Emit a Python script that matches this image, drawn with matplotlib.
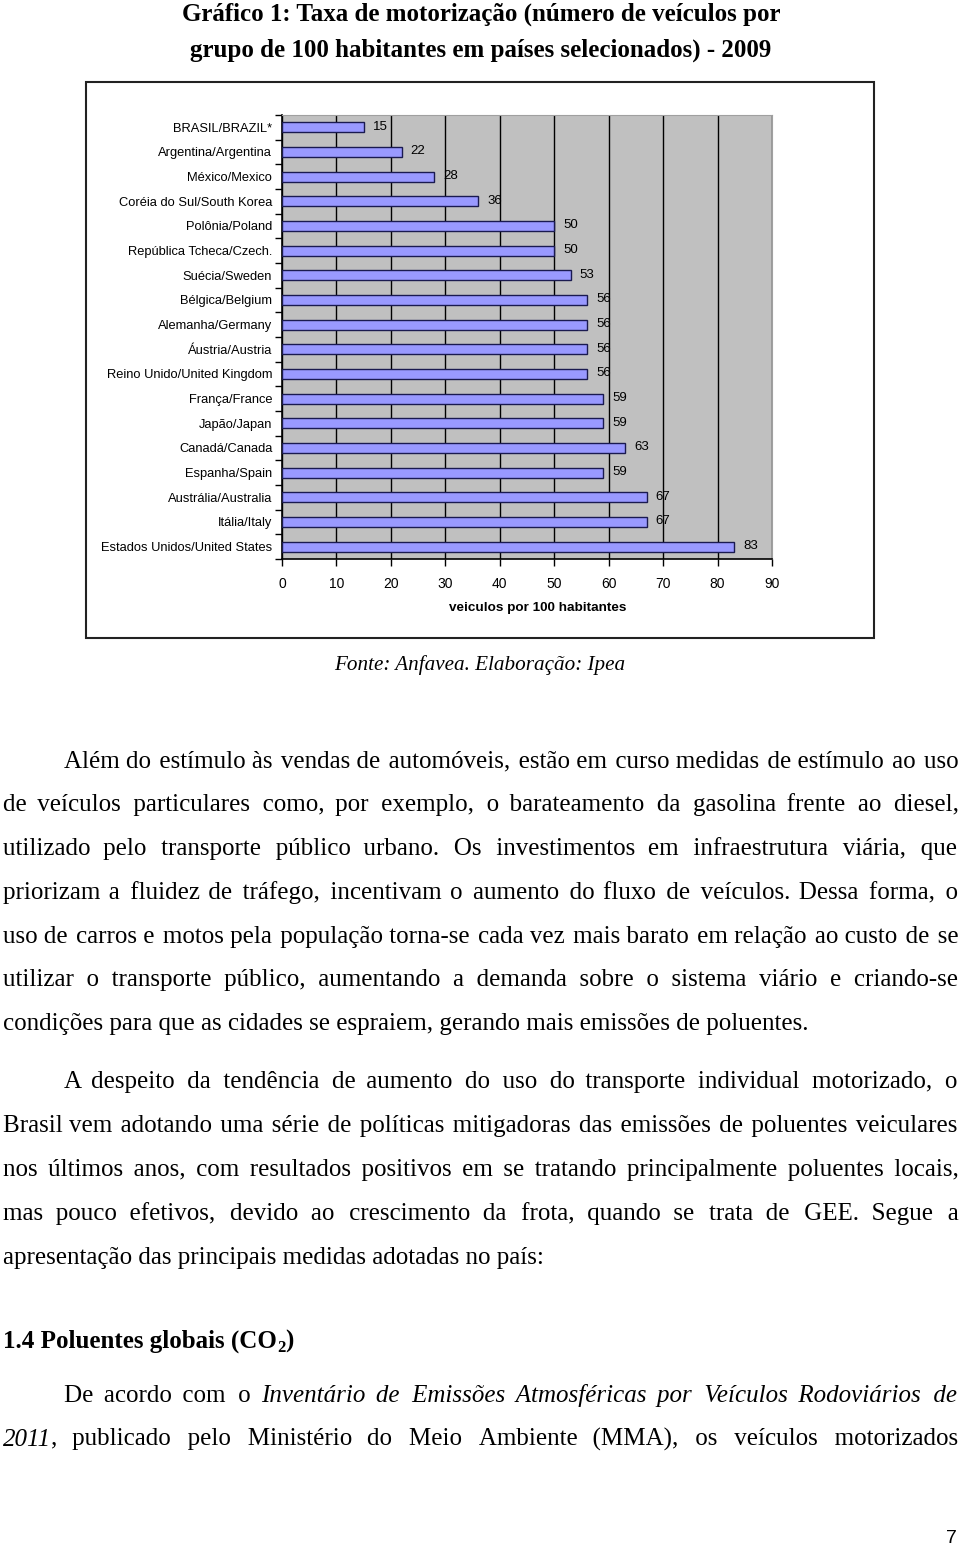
import matplotlib
matplotlib.use("Agg")
import matplotlib.pyplot as plt
import numpy as np

SERIF = ["Liberation Serif", "DejaVu Serif"]
SANS = "Liberation Sans"
HAIR = "\u200a"

# chart data
countries = ["BRASIL/BRAZIL*", "Argentina/Argentina", "México/Mexico",
             "Coréia do Sul/South Korea", "Polônia/Poland", "República Tcheca/Czech.",
             "Suécia/Sweden", "Bélgica/Belgium", "Alemanha/Germany", "Áustria/Austria",
             "Reino Unido/United Kingdom", "França/France", "Japão/Japan", "Canadá/Canada",
             "Espanha/Spain", "Austrália/Australia", "Itália/Italy",
             "Estados Unidos/United States"]
rates = [15, 22, 28, 36, 50, 50, 53, 56, 56, 56, 56, 59, 59, 63, 59, 67, 67, 83]
xticks = list(range(0, 91, 10))

title_lines = ["Gráfico 1: Taxa de motorização (número de veículos por",
               "grupo de 100 habitantes em países selecionados) - 2009"]
xlabel = "veiculos por 100 habitantes"
source = "Fonte: Anfavea. Elaboração: Ipea"

# body text, italics between | marks
para1 = ["Além do estímulo às vendas de automóveis, estão em curso medidas de estímulo ao uso",
         "de veículos particulares como, por exemplo, o barateamento da gasolina frente ao diesel,",
         "utilizado pelo transporte público urbano. Os investimentos em infraestrutura viária, que",
         "priorizam a fluidez de tráfego, incentivam o aumento do fluxo de veículos. Dessa forma, o",
         "uso de carros e motos pela população torna-se cada vez mais barato em relação ao custo de se",
         "utilizar o transporte público, aumentando a demanda sobre o sistema viário e criando-se",
         "condições para que as cidades se espraiem, gerando mais emissões de poluentes."]
para2 = ["A despeito da tendência de aumento do uso do transporte individual motorizado, o",
         "Brasil vem adotando uma série de políticas mitigadoras das emissões de poluentes veiculares",
         "nos últimos anos, com resultados positivos em se tratando principalmente poluentes locais,",
         "mas pouco efetivos, devido ao crescimento da frota, quando se trata de GEE. Segue a",
         "apresentação das principais medidas adotadas no país:"]
para3 = ["De acordo com o |Inventário de Emissões Atmosféricas por Veículos Rodoviários de|",
         "|2011|, publicado pelo Ministério do Meio Ambiente (MMA), os veículos motorizados"]

W, H = 960, 1546
fig = plt.figure(figsize=(W / 100, H / 100), dpi=100)
renderer = fig.canvas.get_renderer()

def fx(x):
    return x / W

def fy(y):
    return 1 - y / H

BODY = 18

def text_width(s, **kw):
    t = fig.text(0, 0, s, **kw)
    w = t.get_window_extent(renderer).width
    t.remove()
    return w

def gap_width(g, italic, size):
    kw = dict(family=SERIF, fontsize=size, style="italic" if italic else "normal")
    return text_width("a" + g + "a", **kw) - text_width("aa", **kw)

def put_line(line, x0, x1, y, justify=True, size=BODY, italic=False):
    # words as lists of (text, italic) segments
    words = []
    for w in line.split(" "):
        segs = []
        for k, p in enumerate(w.split("|")):
            if k > 0:
                italic = not italic
            if p:
                segs.append((p, italic))
        words.append(segs)
    ngaps = len(words) - 1
    # extra hair spaces per gap so that the line fills x0..x1
    extra = [0] * ngaps
    if justify and ngaps > 0:
        natural = sum(text_width(s, family=SERIF, fontsize=size,
                                 style="italic" if it else "normal")
                      for segs in words for s, it in segs)
        natural += ngaps * gap_width(" ", False, size)
        hw = (gap_width(" " + HAIR * 20, False, size) - gap_width(" ", False, size)) / 20
        total = max(0, int(round((x1 - x0 - natural) / hw)))
        extra = [(k + 1) * total // ngaps - k * total // ngaps for k in range(ngaps)]
    # group into runs of one style
    runs = []  # [text, italic, gap_after]
    for i, segs in enumerate(words):
        g = " " + HAIR * extra[i - 1] if i > 0 else ""
        for j, (s, it) in enumerate(segs):
            lead = g if j == 0 else ""
            if runs and runs[-1][1] == it:
                runs[-1][0] += lead + s
            else:
                if runs and lead:
                    runs[-1][2] = lead
                runs.append([s, it, ""])
    x = x0
    for s, it, g in runs:
        kw = dict(family=SERIF, fontsize=size, style="italic" if it else "normal")
        fig.text(fx(x), fy(y), s, va="baseline", **kw)
        x += text_width(s, **kw)
        if g:
            x += gap_width(g, it, size)
    return italic

def put_para(lines, y0, step=43.9, indent=61, left=3, right=958, open_end=False):
    italic = False
    for i, line in enumerate(lines):
        last = i == len(lines) - 1 and not open_end
        x0 = left + indent if i == 0 else left
        italic = put_line(line, x0, right, y0 + i * step, justify=not last, italic=italic)

# title
for i, t in enumerate(title_lines):
    fig.text(fx(481), fy(21 + i * 36), t, family=SERIF, fontsize=18, weight="bold",
             ha="center", va="baseline")

# chart frame
fig.patches.append(plt.Rectangle((fx(86), fy(638)), fx(874) - fx(86), (638 - 82) / H,
                                 transform=fig.transFigure, fill=False, ec="#222222", lw=1.5))

ax = fig.add_axes([fx(282), fy(559), fx(772) - fx(282), (559 - 115) / H])
n = len(countries)
pos = np.arange(n)
ax.set_facecolor("#C0C0C0")
ax.barh(pos, rates, height=0.4, color="#9999FF", edgecolor="#1a1a50", lw=1, zorder=3)
for i, v in enumerate(rates):
    ax.annotate(str(v), (v, i), xytext=(6.5, 0.5), textcoords="offset points",
                va="center", ha="left", fontsize=9.5, family=SANS, zorder=4)
ax.set_xlim(0, 90)
ax.set_ylim(n - 0.5, -0.5)
ax.set_xticks(xticks)
ax.set_xticklabels([str(t) for t in xticks], family=SANS, fontsize=10)
ax.grid(axis="x", color="black", lw=1, zorder=1)
ax.set_yticks(np.arange(n + 1) - 0.5)
ax.set_yticklabels([])
ax.set_yticks(pos, minor=True)
ax.set_yticklabels(countries, minor=True, family=SANS, fontsize=9.3)
ax.tick_params(axis="y", which="major", length=5, width=1, direction="out")
ax.tick_params(axis="y", which="minor", length=0, pad=7)
ax.tick_params(axis="x", length=5, width=1, pad=8)
for s in ["top", "right"]:
    ax.spines[s].set_color("#A0A0A0")
    ax.spines[s].set_linewidth(0.8)
for s in ["left", "bottom"]:
    ax.spines[s].set_linewidth(1.2)
fig.text(fx(538), fy(608), xlabel, family=SANS, fontsize=9.7, weight="bold",
         ha="center", va="center")

fig.text(fx(334), fy(670), source, family=SERIF, fontsize=15.2, style="italic", va="baseline")

put_para(para1, 767)
put_para(para2, 1088)

# heading with subscript
hx, hy = 3, 1348
head = "1.4 Poluentes globais (CO"
fig.text(fx(hx), fy(hy), head, family=SERIF, fontsize=18, weight="bold", va="baseline")
hx += text_width(head, family=SERIF, fontsize=18, weight="bold")
fig.text(fx(hx), fy(hy + 4), "2", family=SERIF, fontsize=12, weight="bold", va="baseline")
hx += text_width("2", family=SERIF, fontsize=12, weight="bold")
fig.text(fx(hx), fy(hy), ")", family=SERIF, fontsize=18, weight="bold", va="baseline")

put_para(para3, 1402, open_end=True)
fig.text(fx(957), fy(1543), "7", family=SANS, fontsize=14, ha="right", va="baseline")

fig.savefig("out.png", dpi=100, facecolor="white")
